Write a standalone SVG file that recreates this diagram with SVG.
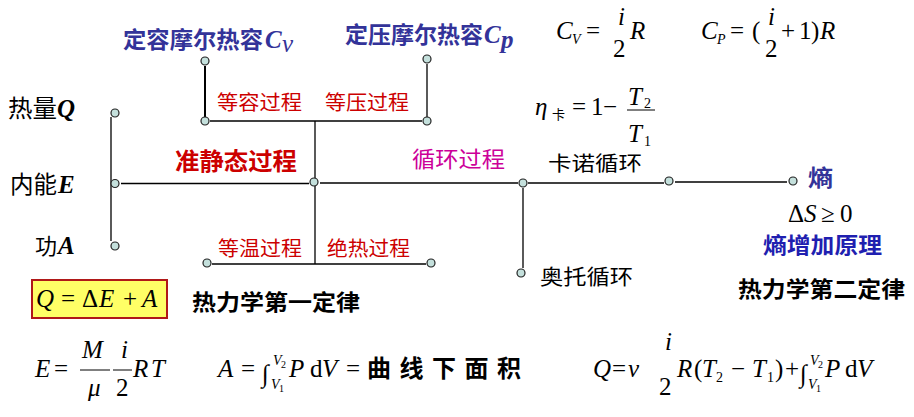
<svg xmlns="http://www.w3.org/2000/svg" width="914" height="417" viewBox="0 0 914 417">
<style>
.ln{stroke:#000;stroke-width:1.3;fill:none}
.thk{stroke:#000;stroke-width:2;fill:none}
.bar{stroke:#000;stroke-width:1}
.nd{fill:#c4e0dc;stroke:#222;stroke-width:1.2}
.cjk{font-family:"Noto Sans CJK SC","Noto Sans",sans-serif}
.b{font-weight:bold}
.m{font-family:"Liberation Serif",serif;font-size:25px;fill:#000}
.i{font-style:italic}
.s{font-size:14px}
.lim{font-size:14px}
.lim2{font-size:10px}
.red{fill:#cc0000}
.blue{fill:#333399}
.blue2{fill:#1f1fb0}
.mag{fill:#cc0099}
.blk{fill:#000}
</style>
<rect width="914" height="417" fill="#fff"/>

<g id="connectors">
  <line class="ln" x1="111" y1="117" x2="111" y2="241"/>
  <line class="ln" x1="121" y1="183.5" x2="309" y2="183.5"/>
  <line class="ln" x1="315" y1="121" x2="315" y2="264"/>
  <line class="ln" x1="210" y1="121" x2="422" y2="121"/>
  <line class="thk" x1="205" y1="66" x2="205" y2="117"/>
  <line class="ln" x1="427" y1="64" x2="427" y2="117"/>
  <line class="ln" x1="212" y1="264" x2="426" y2="264"/>
  <line class="ln" x1="320" y1="183" x2="518" y2="183"/>
  <line class="ln" x1="528" y1="183" x2="664" y2="183"/>
  <line class="ln" x1="675" y1="182" x2="787" y2="182"/>
  <line class="ln" x1="523" y1="188" x2="523" y2="268"/>
</g>

<g id="node-Q"><circle class="nd" cx="115" cy="113" r="4"/></g>
<g id="node-E"><circle class="nd" cx="115" cy="183.5" r="4"/></g>
<g id="node-A"><circle class="nd" cx="115" cy="246" r="4"/></g>
<g id="node-Cv"><circle class="nd" cx="205" cy="61" r="4"/></g>
<g id="node-Cp"><circle class="nd" cx="427" cy="59" r="4"/></g>
<g id="node-isochoric"><circle class="nd" cx="205" cy="121" r="4"/></g>
<g id="node-isobaric"><circle class="nd" cx="427" cy="121" r="4"/></g>
<g id="node-quasistatic"><circle class="nd" cx="314" cy="182" r="4"/></g>
<g id="node-isothermal"><circle class="nd" cx="207" cy="263" r="4"/></g>
<g id="node-adiabatic"><circle class="nd" cx="431" cy="263" r="4"/></g>
<g id="node-cycle"><circle class="nd" cx="523" cy="183" r="4"/></g>
<g id="node-carnot"><circle class="nd" cx="669" cy="181" r="4"/></g>
<g id="node-entropy"><circle class="nd" cx="793" cy="181" r="4"/></g>
<g id="node-otto"><circle class="nd" cx="521" cy="273" r="4"/></g>

<g id="labels">
  <text class="cjk b blue" x="123" y="48" font-size="23" textLength="140" lengthAdjust="spacingAndGlyphs">定容摩尔热容</text>
  <text class="m i b blue" x="265" y="48" font-size="24">C</text>
  <text class="m i blue" x="282" y="52" font-size="15">v</text>

  <text class="cjk b blue" x="345" y="43" font-size="23" textLength="138" lengthAdjust="spacingAndGlyphs">定压摩尔热容</text>
  <text class="m i b blue" x="484" y="43" font-size="24">C</text>
  <text class="m i b blue" x="501" y="48" font-size="16">p</text>

  <text class="cjk blk" x="8" y="117" font-size="24" textLength="49" lengthAdjust="spacingAndGlyphs">热量</text>
  <text class="m i b" x="57" y="117" font-size="25">Q</text>
  <text class="cjk blk" x="10" y="193" font-size="24" textLength="47" lengthAdjust="spacingAndGlyphs">内能</text>
  <text class="m i b" x="58" y="193" font-size="25">E</text>
  <text class="cjk blk" x="35" y="254" font-size="22" textLength="22" lengthAdjust="spacingAndGlyphs">功</text>
  <text class="m i b" x="58" y="254" font-size="25">A</text>

  <text class="cjk red" x="217" y="110" font-size="20" textLength="85" lengthAdjust="spacingAndGlyphs">等容过程</text>
  <text class="cjk red" x="325" y="110" font-size="20" textLength="84" lengthAdjust="spacingAndGlyphs">等压过程</text>
  <text class="cjk red" x="218" y="256" font-size="20" textLength="84" lengthAdjust="spacingAndGlyphs">等温过程</text>
  <text class="cjk red" x="327" y="256" font-size="20" textLength="83" lengthAdjust="spacingAndGlyphs">绝热过程</text>
  <text class="cjk b red" x="175" y="170" font-size="24" textLength="122" lengthAdjust="spacingAndGlyphs">准静态过程</text>
  <text class="cjk mag" x="412" y="167" font-size="22" textLength="93" lengthAdjust="spacingAndGlyphs">循环过程</text>
  <text class="cjk blk" x="548" y="171" font-size="20" textLength="94" lengthAdjust="spacingAndGlyphs">卡诺循环</text>
  <text class="cjk blk" x="540" y="284" font-size="21" textLength="93" lengthAdjust="spacingAndGlyphs">奥托循环</text>
  <text class="cjk b blue" x="808" y="186" font-size="23" textLength="25" lengthAdjust="spacingAndGlyphs">熵</text>
  <text class="cjk b blue2" x="763" y="253" font-size="22" textLength="119" lengthAdjust="spacingAndGlyphs">熵增加原理</text>
  <text class="cjk b blk" x="738" y="297" font-size="22" textLength="167" lengthAdjust="spacingAndGlyphs">热力学第二定律</text>
  <text class="cjk b blk" x="192" y="310" font-size="22" textLength="168" lengthAdjust="spacingAndGlyphs">热力学第一定律</text>
</g>

<g id="formula-first-law">
  <rect x="32" y="280" width="135" height="38" fill="#ffff66" stroke="#b01818" stroke-width="2"/>
  <text class="m" x="36" y="307" font-size="28"><tspan class="i">Q</tspan><tspan x="61">=</tspan><tspan x="82">Δ</tspan><tspan class="i" x="99">E</tspan><tspan x="123">+</tspan><tspan class="i" x="142">A</tspan></text>
</g>

<g id="formula-cv">
  <text class="m i" x="556" y="39">C</text>
  <text class="m i s" x="572" y="44">V</text>
  <text class="m" x="586" y="39">=</text>
  <text class="m i" x="618" y="25">i</text>
  <text class="m" x="613" y="57">2</text>
  <text class="m i" x="630" y="39">R</text>
</g>
<g id="formula-cp">
  <text class="m i" x="701" y="39">C</text>
  <text class="m i s" x="717" y="44">P</text>
  <text class="m" x="730" y="39">=</text>
  <text class="m" x="752" y="39">(</text>
  <text class="m i" x="768" y="25">i</text>
  <text class="m" x="765" y="57">2</text>
  <text class="m" x="781" y="39">+</text>
  <text class="m" x="799" y="39">1</text>
  <text class="m" x="811" y="39">)</text>
  <text class="m i" x="820" y="39">R</text>
</g>
<g id="formula-eta">
  <text class="m i" x="535" y="115" font-size="27">η</text>
  <text class="cjk" x="552" y="119" font-size="13">卡</text>
  <text class="m" x="572" y="115">=</text>
  <text class="m" x="591" y="115">1</text>
  <text class="m" x="603" y="115">−</text>
  <text class="m i" x="628" y="105">T</text>
  <text class="m s" x="644" y="108">2</text>
  <line class="bar" x1="627" y1="110" x2="655" y2="110"/>
  <text class="m i" x="628" y="142">T</text>
  <text class="m s" x="644" y="146">1</text>
</g>
<g id="formula-entropy">
  <text class="m" x="788" y="222" font-size="22">Δ<tspan class="i">S</tspan><tspan x="821">≥</tspan><tspan x="840">0</tspan></text>
</g>

<g id="formula-E">
  <text class="m i" x="35" y="377">E</text>
  <text class="m" x="54" y="377">=</text>
  <text class="m i" x="82" y="358">M</text>
  <line class="bar" x1="80" y1="370" x2="110" y2="370"/>
  <text class="m i" x="88" y="396">μ</text>
  <text class="m i" x="121" y="358">i</text>
  <line class="bar" x1="113" y1="370" x2="132" y2="370"/>
  <text class="m" x="116" y="396">2</text>
  <text class="m i" x="133" y="377">R</text>
  <text class="m i" x="151" y="377">T</text>
</g>
<g id="formula-A">
  <text class="m i" x="218" y="377">A</text>
  <text class="m" x="241" y="377">=</text>
  <text class="m" x="262" y="382" font-size="26">∫</text>
  <text class="m i lim" x="273" y="365">V</text>
  <text class="m lim2" x="281" y="368">2</text>
  <text class="m i lim" x="271" y="389">V</text>
  <text class="m lim2" x="279" y="392">1</text>
  <text class="m i" x="289" y="377">P</text>
  <text class="m" x="310" y="377">d</text>
  <text class="m i" x="322" y="377">V</text>
  <text class="m" x="346" y="377">=</text>
  <text class="cjk b blk" x="367" y="377" font-size="24" textLength="154" lengthAdjust="spacing">曲线下面积</text>
</g>
<g id="formula-Q">
  <text class="m i" x="593" y="377">Q</text>
  <text class="m" x="612" y="377">=</text>
  <text class="m i" x="628" y="377">ν</text>
  <text class="m i" x="665" y="350">i</text>
  <text class="m" x="659" y="395">2</text>
  <text class="m i" x="677" y="377">R</text>
  <text class="m" x="694" y="377">(</text>
  <text class="m i" x="702" y="377">T</text>
  <text class="m s" x="716" y="382">2</text>
  <text class="m" x="731" y="377">−</text>
  <text class="m i" x="752" y="377">T</text>
  <text class="m s" x="767" y="382">1</text>
  <text class="m" x="775" y="377">)</text>
  <text class="m" x="785" y="377">+</text>
  <text class="m" x="800" y="382" font-size="26">∫</text>
  <text class="m i lim" x="810" y="365">V</text>
  <text class="m lim2" x="818" y="368">2</text>
  <text class="m i lim" x="808" y="389">V</text>
  <text class="m lim2" x="816" y="392">1</text>
  <text class="m i" x="825" y="377">P</text>
  <text class="m" x="845" y="377">d</text>
  <text class="m i" x="857" y="377">V</text>
</g>
</svg>
